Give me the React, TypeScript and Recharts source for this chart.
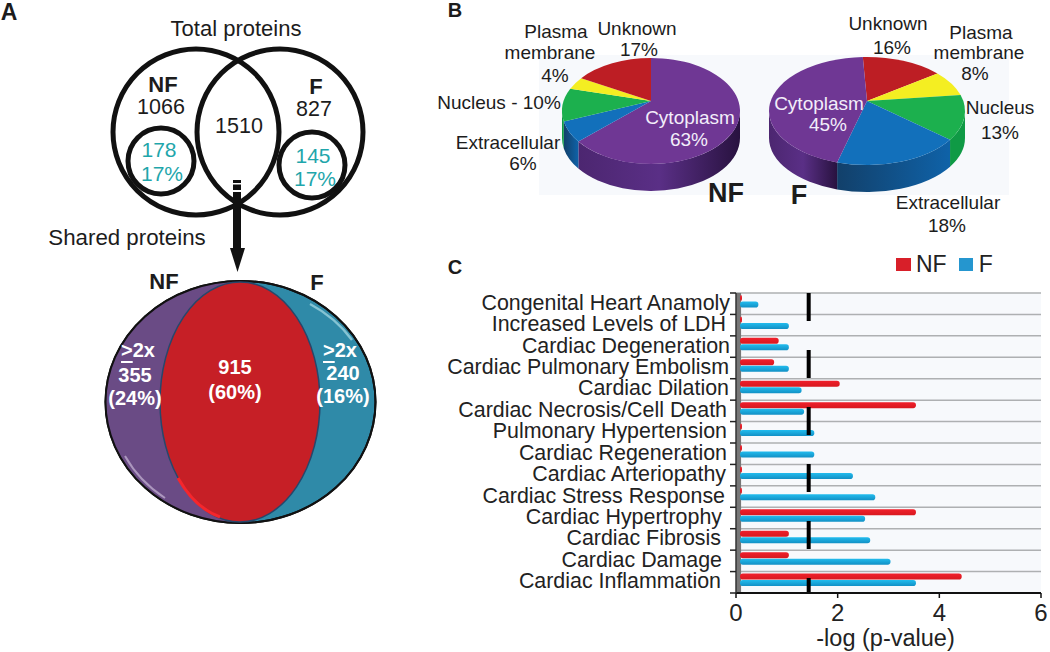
import React from "react";
import {
  BarChart, Bar, XAxis, YAxis, CartesianGrid, ReferenceLine, ReferenceArea, Legend,
  PieChart, Pie,
} from "recharts";

const FONT = "'Liberation Sans', Arial, sans-serif";

// Panel C data
const pathways = [
  "Congenital Heart Anamoly", "Increased Levels of LDH", "Cardiac Degeneration",
  "Cardiac Pulmonary Embolism", "Cardiac Dilation", "Cardiac Necrosis/Cell Death",
  "Pulmonary Hypertension", "Cardiac Regeneration", "Cardiac Arteriopathy",
  "Cardiac Stress Response", "Cardiac Hypertrophy", "Cardiac Fibrosis",
  "Cardiac Damage", "Cardiac Inflammation",
];
const nfValues = [0.06, 0.06, 0.84, 0.75, 2.04, 3.54, 0.06, 0.06, 0.06, 0.06, 3.54, 1.04, 1.04, 4.44];
const fValues = [0.44, 1.04, 1.04, 1.04, 1.29, 1.34, 1.54, 1.54, 2.3, 2.74, 2.54, 2.64, 3.04, 3.54];
const xTicks = [0, 2, 4, 6];
const threshold = 1.43;
const seriesOrder = ["NF", "F"];
const labelRight = [730, 726, 730, 729, 729, 727, 727, 727, 726, 725, 722, 721, 722, 721];
const barRows = pathways.map((name, i) => ({ name, NF: nfValues[i], F: fValues[i] }));

// Panel B data
const nfPie = [
  { name: "Cytoplasm", value: 63 }, { name: "Extracellular", value: 6 },
  { name: "Nucleus", value: 10 }, { name: "Plasma membrane", value: 4 }, { name: "Unknown", value: 17 },
];
const fPie = [
  { name: "Unknown", value: 16 }, { name: "Plasma membrane", value: 8 }, { name: "Nucleus", value: 13 },
  { name: "Extracellular", value: 18 }, { name: "Cytoplasm", value: 45 },
];
const topColors: Record<string, string> = {
  Cytoplasm: "#6f3794", Extracellular: "#1270bb", Nucleus: "#1cb04e", "Plasma membrane": "#f4ee22", Unknown: "#bd1e24",
};
const wallColors: Record<string, string> = {
  Cytoplasm: "url(#wallPurple)", Extracellular: "url(#wallBlue)", Nucleus: "#0f9a45", "Plasma membrane": "#c9c31a", Unknown: "#8f1519",
};

type Geo = { cx: number; cy: number; rx: number; ry: number; apex: number; depth: number };
const nfGeo: Geo = { cx: 651, cy: 111, rx: 89, ry: 53, apex: 10, depth: 27 };
const fGeo: Geo = { cx: 867, cy: 111, rx: 98, ry: 54, apex: 10, depth: 27 };

function hit(g: Geo, angle: number): [number, number] {
  const t = (-angle * Math.PI) / 180;
  const d = [Math.cos(t), Math.sin(t)];
  const a = [0, -g.apex / g.ry];
  const ad = a[0] * d[0] + a[1] * d[1];
  const s = -ad + Math.sqrt(ad * ad + 1 - a[1] * a[1]);
  return [a[0] + s * d[0], a[1] + s * d[1]];
}
const topShape = (g: Geo) => (p: any) => {
  const [u1, v1] = hit(g, p.startAngle);
  const [u2, v2] = hit(g, p.endAngle);
  let f1 = Math.atan2(v1, u1);
  let f2 = Math.atan2(v2, u2);
  while (f2 < f1) f2 += Math.PI * 2;
  const large = f2 - f1 > Math.PI ? 1 : 0;
  const ax = g.cx, ay = g.cy - g.apex;
  const d = `M${ax} ${ay}L${g.cx + u1 * g.rx} ${g.cy + v1 * g.ry}A${g.rx} ${g.ry} 0 ${large} 1 ${g.cx + u2 * g.rx} ${g.cy + v2 * g.ry}Z`;
  return <path d={d} fill={topColors[p.name ?? p.payload?.name]} />;
};
const wallShape = (g: Geo) => (p: any) => {
  const [u1, v1] = hit(g, p.startAngle);
  const [u2, v2] = hit(g, p.endAngle);
  let f1 = Math.atan2(v1, u1);
  let f2 = Math.atan2(v2, u2);
  while (f2 < f1) f2 += Math.PI * 2;
  const parts: string[] = [];
  for (const k of [-2, 0, 2]) {
    const lo = Math.max(f1, k * Math.PI);
    const hi = Math.min(f2, (k + 1) * Math.PI);
    if (hi <= lo) continue;
    const x1 = g.cx + Math.cos(lo) * g.rx, y1 = g.cy + Math.sin(lo) * g.ry;
    const x2 = g.cx + Math.cos(hi) * g.rx, y2 = g.cy + Math.sin(hi) * g.ry;
    parts.push(`M${x1} ${y1}A${g.rx} ${g.ry} 0 0 1 ${x2} ${y2}L${x2} ${y2 + g.depth}A${g.rx} ${g.ry} 0 0 0 ${x1} ${y1 + g.depth}Z`);
  }
  return <path d={parts.join("")} fill={wallColors[p.name ?? p.payload?.name]} />;
};

// Panel A text
const vennTotals = { nf: "1066", f: "827", shared: "1510" };
const subsetNf = ["178", "17%"];
const subsetF = ["145", "17%"];
const sharedLeft = ["355", "(24%)"];
const sharedMid = ["915", "(60%)"];
const sharedRight = ["240", "(16%)"];

const plotTop = 293;
const plotBottom = 593;
const plotLeft = 736;
const plotRight = 1041;
const band = (plotBottom - plotTop) / pathways.length;
const gridYs = pathways.map((_, i) => plotTop + i * band);

const BarShape = (p: any) => {
  const w = Math.max(p.width - 4, 2);
  return <rect x={p.x + 4} y={p.y - 2} width={w} height={p.height} rx={2.8} fill={p.fill} />;
};

const CategoryTick = (p: any) => {
  const i = p.index as number;
  return (
    <g>
      <text x={labelRight[i]} y={p.y - 1} textAnchor="end" dominantBaseline="central" fontSize={21.4} fontFamily={FONT} fill="#222">
        {p.payload.value}
      </text>
      <line x1={730} x2={plotLeft} y1={p.y + band / 2} y2={p.y + band / 2} stroke="#222" strokeWidth={1.5} />
      {i === 0 && <line x1={730} x2={plotLeft} y1={p.y - band / 2} y2={p.y - band / 2} stroke="#222" strokeWidth={1.5} />}
    </g>
  );
};

const LegendBox = (p: any) => {
  const entries = seriesOrder.map((n) => (p.payload ?? []).find((e: any) => e.value === n)).filter(Boolean);
  return (
    <div style={{ display: "flex", alignItems: "center", fontFamily: FONT, fontSize: 23, color: "#222", lineHeight: "20px" }}>
      {entries.map((e: any) => (
        <React.Fragment key={e.value}>
          <span style={{ width: e.value === "NF" ? 15 : 14, height: 13, background: e.value === "NF" ? "#d81f29" : "#2596cf", display: "inline-block", marginRight: e.value === "NF" ? 5 : 6 }} />
          <span style={{ marginRight: e.value === "NF" ? 12 : 0 }}>{e.value}</span>
        </React.Fragment>
      ))}
    </div>
  );
};

const T = (p: any) => (
  <text textAnchor="middle" dominantBaseline="central" fontFamily={FONT} fill="#1c1c1c" fontSize={19} {...p} />
);

const abs: React.CSSProperties = { position: "absolute", left: 0, top: 0 };

export default function App() {
  return (
    <div style={{ position: "absolute", left: 0, top: 0, width: 1050, height: 652, background: "#fff", overflow: "hidden" }}>
      <svg width={1050} height={652} style={abs}>
        <defs>
          <linearGradient id="wallPurple" x1="0" y1="0" x2="1" y2="0">
            <stop offset="0" stopColor="#4c2670" />
            <stop offset="0.5" stopColor="#5a2f86" />
            <stop offset="1" stopColor="#28123f" />
          </linearGradient>
          <linearGradient id="wallBlue" x1="0" y1="0" x2="1" y2="0">
            <stop offset="0" stopColor="#12406a" />
            <stop offset="1" stopColor="#0f62a8" />
          </linearGradient>
          <linearGradient id="barRed" x1="0" y1="0" x2="0" y2="1">
            <stop offset="0" stopColor="#f0202c" />
            <stop offset="1" stopColor="#d8181f" />
          </linearGradient>
          <linearGradient id="barBlue" x1="0" y1="0" x2="0" y2="1">
            <stop offset="0" stopColor="#22bcee" />
            <stop offset="1" stopColor="#1290c5" />
          </linearGradient>
        </defs>
        <rect x={539} y={55} width={470} height={140} fill="#f7f9fc" />

        {/* Panel A upper venn */}
        <g fill="none" stroke="#111" strokeWidth={5}>
          <circle cx={196} cy={132} r={83} />
          <circle cx={280} cy={132} r={83} />
          <circle cx={161} cy={161} r={33} />
          <circle cx={312} cy={165} r={33} />
        </g>
        <rect x={233} y={180} width={8} height={68} fill="#111" />
        <rect x={233} y={183} width={8} height={1.5} fill="#fff" />
        <rect x={233} y={190} width={8} height={2} fill="#fff" />
        <polygon points="230,248 245,248 237.5,272" fill="#111" />

        {/* Panel A lower venn */}
        <ellipse cx={240.5} cy={402} rx={135} ry={121} fill="#2f8aa8" stroke="#111" strokeWidth={2} />
        <path d="M240 281 A135 121 0 0 0 240 523 Z" fill="#6a4b85" />
        <ellipse cx={240.5} cy={402} rx={135} ry={121} fill="none" stroke="#111" strokeWidth={2} />
        <ellipse cx={240} cy={402} rx={80} ry={120} fill="#c61f26" stroke="#27476b" strokeWidth={1.5} />
        <path d="M310 304 A130 116 0 0 1 352 340" fill="none" stroke="#a8dbe6" strokeWidth={2.5} opacity={0.7} />
        <path d="M125 456 A131 117 0 0 0 165 498" fill="none" stroke="#c8b6d6" strokeWidth={2} opacity={0.7} />
        <path d="M178 478 A79 119 0 0 0 220 517" fill="none" stroke="#f5262c" strokeWidth={3} />
      </svg>

      <PieChart width={1050} height={652} style={abs}>
        <Pie data={nfPie} dataKey="value" nameKey="name" cx={nfGeo.cx} cy={nfGeo.cy} outerRadius={80} startAngle={90} endAngle={-270} stroke="none" isAnimationActive={false} shape={wallShape(nfGeo)} />
        <Pie data={nfPie} dataKey="value" nameKey="name" cx={nfGeo.cx} cy={nfGeo.cy} outerRadius={80} startAngle={90} endAngle={-270} stroke="none" isAnimationActive={false} shape={topShape(nfGeo)} />
        <Pie data={fPie} dataKey="value" nameKey="name" cx={fGeo.cx} cy={fGeo.cy} outerRadius={80} startAngle={93} endAngle={-267} stroke="none" isAnimationActive={false} shape={wallShape(fGeo)} />
        <Pie data={fPie} dataKey="value" nameKey="name" cx={fGeo.cx} cy={fGeo.cy} outerRadius={80} startAngle={93} endAngle={-267} stroke="none" isAnimationActive={false} shape={topShape(fGeo)} />
      </PieChart>

      <BarChart width={1050} height={652} style={abs} data={barRows} layout="vertical"
        margin={{ top: plotTop, right: 1050 - plotRight, bottom: 0, left: 0 }} barSize={6} barGap={0.5}>
        <CartesianGrid horizontal vertical={false} horizontalPoints={gridYs} stroke="#aeb0b2" strokeWidth={1.5} fill="#f7f9fc" />
        <ReferenceArea x1={0} x2={0.1} fill="#777" fillOpacity={1} stroke="none" />
        <XAxis type="number" domain={[0, 6]} ticks={xTicks} height={652 - plotBottom}
          axisLine={{ stroke: "#111", strokeWidth: 2 }} tickLine={{ stroke: "#111", strokeWidth: 1.5 }} tickSize={5} tickMargin={6}
          tick={{ fontSize: 24, fontFamily: FONT, fill: "#222" }}
          label={{ value: "-log (p-value)", position: "insideBottom", offset: 6, fontSize: 23.5, fontFamily: FONT, fill: "#222", dx: -3 }} />
        <YAxis type="category" dataKey="name" width={plotLeft} interval={0} tickLine={false}
          axisLine={{ stroke: "#333", strokeWidth: 1.5 }} tick={CategoryTick} />
        <Legend layout="vertical" align="center" verticalAlign="middle" content={LegendBox}
          wrapperStyle={{ left: 896, top: 254, width: 110, height: 22 }} />
        <Bar dataKey="NF" name="NF" fill="url(#barRed)" shape={BarShape} isAnimationActive={false} />
        <Bar dataKey="F" name="F" fill="url(#barBlue)" shape={BarShape} isAnimationActive={false} />
        <ReferenceLine x={threshold} stroke="#000" strokeWidth={4} strokeDasharray="28 29" strokeDashoffset={13} />
      </BarChart>

      <svg width={1050} height={652} style={{ ...abs, pointerEvents: "none" }}>
        <T x={9} y={12} fontSize={23} fontWeight={700}>A</T>
        <T x={455} y={10} fontSize={20} fontWeight={700}>B</T>
        <T x={455} y={267} fontSize={20} fontWeight={700}>C</T>

        <T x={236} y={28} fontSize={22}>Total proteins</T>
        <T x={163} y={84} fontSize={22} fontWeight={700}>NF</T>
        <T x={161} y={107} fontSize={21.5}>{vennTotals.nf}</T>
        <T x={316} y={86} fontSize={22} fontWeight={700}>F</T>
        <T x={314} y={109} fontSize={21.5}>{vennTotals.f}</T>
        <T x={239} y={126} fontSize={21.5}>{vennTotals.shared}</T>
        <T x={159} y={149} fontSize={21} fill="#1fa6ab">{subsetNf[0]}</T>
        <T x={162} y={173} fontSize={21} fill="#1fa6ab">{subsetNf[1]}</T>
        <T x={313} y={155} fontSize={21} fill="#1fa6ab">{subsetF[0]}</T>
        <T x={315} y={178} fontSize={21} fill="#1fa6ab">{subsetF[1]}</T>
        <T x={127} y={237} fontSize={22.3}>Shared proteins</T>
        <T x={164} y={281} fontSize={22} fontWeight={700}>NF</T>
        <T x={317} y={282} fontSize={22} fontWeight={700}>F</T>

        <T x={138} y={350} fontSize={20} fill="#fff" fontWeight={700}><tspan textDecoration="underline">&gt;</tspan>2x</T>
        <T x={135} y={375} fontSize={20} fill="#fff" fontWeight={700}>{sharedLeft[0]}</T>
        <T x={135} y={398} fontSize={20} fill="#fff" fontWeight={700}>{sharedLeft[1]}</T>
        <T x={235} y={367} fontSize={20} fill="#fff" fontWeight={700}>{sharedMid[0]}</T>
        <T x={235} y={392} fontSize={20} fill="#fff" fontWeight={700}>{sharedMid[1]}</T>
        <T x={340} y={350} fontSize={20} fill="#fff" fontWeight={700}><tspan textDecoration="underline">&gt;</tspan>2x</T>
        <T x={343} y={373} fontSize={20} fill="#fff" fontWeight={700}>{sharedRight[0]}</T>
        <T x={343} y={396} fontSize={20} fill="#fff" fontWeight={700}>{sharedRight[1]}</T>

        <T x={556} y={31}>Plasma</T>
        <T x={550} y={52}>membrane</T>
        <T x={555} y={75}>4%</T>
        <T x={637} y={28}>Unknown</T>
        <T x={639} y={49}>17%</T>
        <T x={499} y={102}>Nucleus - 10%</T>
        <T x={508} y={142}>Extracellular</T>
        <T x={523} y={163}>6%</T>
        <T x={690} y={117} fill="#f3eefa">Cytoplasm</T>
        <T x={689} y={139} fill="#f3eefa">63%</T>
        <T x={726} y={193} fontSize={27} fontWeight={700}>NF</T>

        <T x={888} y={23}>Unknown</T>
        <T x={892} y={47}>16%</T>
        <T x={981} y={32}>Plasma</T>
        <T x={979} y={52}>membrane</T>
        <T x={975} y={73}>8%</T>
        <T x={1000} y={107}>Nucleus</T>
        <T x={1000} y={132}>13%</T>
        <T x={948} y={202}>Extracellular</T>
        <T x={947} y={225}>18%</T>
        <T x={819} y={103} fill="#f3eefa">Cytoplasm</T>
        <T x={828} y={124} fill="#f3eefa">45%</T>
        <T x={799} y={195} fontSize={27} fontWeight={700}>F</T>
      </svg>
    </div>
  );
}
